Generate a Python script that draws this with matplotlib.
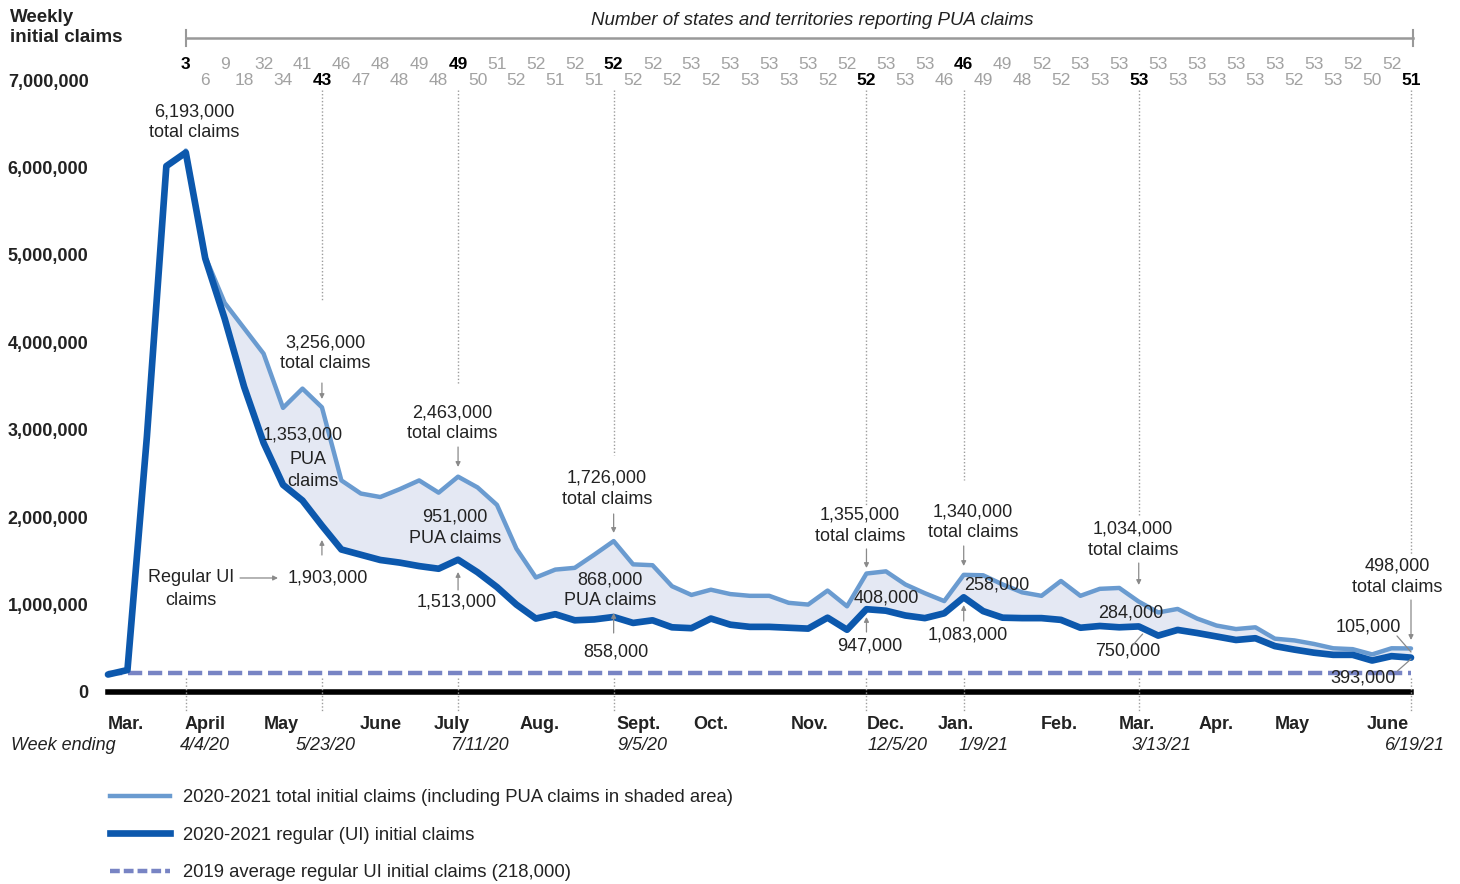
import matplotlib
matplotlib.use("Agg")
import matplotlib.pyplot as plt
from matplotlib.lines import Line2D
import numpy as np

plt.rcParams['font.family'] = ['Liberation Sans', 'DejaVu Sans']

# ---------------- data (weeks ending 3/7/20 ... 6/19/21, index 0..67) ----------------
regular_k = [200, 251, 2920, 6015, 6170, 4960, 4270, 3490, 2850, 2370, 2190, 1903,
             1630, 1570, 1510, 1480, 1440, 1410, 1513, 1370, 1200, 1000, 840, 890,
             820, 830, 858, 790, 820, 740, 730, 840, 770, 745, 745, 735, 725, 850,
             712, 947, 930, 875, 845, 900, 1083, 925, 850, 845, 845, 825, 735, 755,
             740, 750, 645, 710, 675, 635, 595, 615, 525, 485, 450, 425, 425, 360,
             410, 393]
total_k = [6193, 4980, 4450, 4160, 3870, 3250, 3470, 3256, 2420, 2270, 2230, 2320,
           2420, 2280, 2463, 2340, 2140, 1640, 1310, 1400, 1420, 1570, 1726, 1460,
           1450, 1210, 1110, 1170, 1120, 1100, 1100, 1020, 1000, 1160, 980, 1355,
           1380, 1230, 1130, 1040, 1340, 1335, 1230, 1140, 1100, 1270, 1100, 1180,
           1190, 1034, 910, 950, 840, 760, 720, 740, 610, 590, 550, 500, 490, 430,
           500, 498]
total_start = 4  # week ending 4/4/20
avg_2019 = 218000
pua_states = [3, 6, 9, 18, 32, 34, 41, 43, 46, 47, 48, 48, 49, 48, 49, 50, 51, 52,
              52, 51, 52, 51, 52, 52, 52, 52, 53, 52, 53, 53, 53, 53, 53, 52, 52, 52,
              53, 53, 53, 46, 46, 49, 49, 48, 52, 52, 53, 53, 53, 53, 53, 53, 53, 53,
              53, 53, 53, 52, 53, 53, 52, 50, 52, 51]
key_weeks = [4, 11, 18, 26, 39, 44, 53, 67]
key_dates = ["4/4/20", "5/23/20", "7/11/20", "9/5/20", "12/5/20", "1/9/21", "3/13/21", "6/19/21"]
months = ["Mar.", "April", "May", "June", "July", "Aug.", "Sept.", "Oct.", "Nov.",
          "Dec.", "Jan.", "Feb.", "Mar.", "Apr.", "May", "June"]
month_pos = [0.9, 5.0, 8.9, 14.0, 17.7, 22.2, 27.3, 31.0, 36.1, 40.0, 43.6, 48.9,
             52.9, 57.0, 60.9, 65.8]

regular = np.array(regular_k, float) * 1000
weeks = np.arange(len(regular))
total = np.full(len(regular), np.nan)
total[total_start:] = np.array(total_k, float) * 1000

LIGHT = "#6a9bd0"
DARK = "#0c58ad"
DASH = "#7884c4"
FILL = "#e4e8f3"
GREY = "#9c9c9c"
TXT = "#222222"
FS = 13

fig = plt.figure(figsize=(14.6, 8.84), dpi=100)
ax = fig.add_axes([108 / 1460, 192 / 884, 1303 / 1460, 612 / 884])
ax.set_xlim(0, 67)
ax.set_ylim(0, 7e6)
for s in ax.spines.values():
    s.set_visible(False)

# shaded PUA area
m = ~np.isnan(total)
ax.fill_between(weeks[m], regular[m], total[m], color=FILL, lw=0, zorder=1)
# 2019 avg
l_dash = ax.axhline(avg_2019, color=DASH, lw=3.2, dashes=(3.2, 1.3), zorder=2, clip_on=False)
# lines
l_tot, = ax.plot(weeks, total, color=LIGHT, lw=3.2, zorder=3, clip_on=False,
                 solid_joinstyle='round', solid_capstyle='round')
l_reg, = ax.plot(weeks, regular, color=DARK, lw=4.8, zorder=4, clip_on=False,
                 solid_joinstyle='round', solid_capstyle='round')
ax.axhline(0, color='black', lw=4, zorder=5, clip_on=False)

# y axis
ax.set_yticks(np.arange(0, 7e6 + 1, 1e6))
ax.set_yticklabels([f"{int(v):,}" for v in np.arange(0, 7e6 + 1, 1e6)],
                   fontsize=FS, fontweight='bold', color=TXT)
ax.tick_params(axis='y', length=0, pad=14)
# x axis months
ax.set_xticks(month_pos)
ax.set_xticklabels(months, fontsize=FS, fontweight='bold', color=TXT)
ax.tick_params(axis='x', length=0, pad=17)

# week ending labels
tr = ax.get_xaxis_transform()
ax.text(-5.0, -0.0875, "Week ending", transform=tr, ha='left', va='center',
        fontsize=FS, style='italic', color=TXT, clip_on=False)
date_x = [5.0, 11.2, 19.1, 27.5, 40.6, 45.0, 54.2, 67.2]
for dx, d in zip(date_x, key_dates):
    ax.text(dx, -0.0875, d, transform=tr, ha='center', va='center', fontsize=FS,
            style='italic', color=TXT, clip_on=False)

# dotted guide lines
upper_bottom = {11: 4.48e6, 18: 3.51e6, 26: 2.71e6, 39: 2.14e6, 44: 2.42e6,
                53: 2.02e6, 67: 1.57e6}
for w in key_weeks:
    ax.plot([w, w], [0.16e6, -0.23e6], color=GREY, lw=1, ls=(0, (1, 1.5)),
            clip_on=False, zorder=6)
    if w in upper_bottom:
        ax.plot([w, w], [6.88e6, upper_bottom[w]], color=GREY, lw=1,
                ls=(0, (1, 1.5)), clip_on=False, zorder=0)

# PUA state counts row
for k, n in enumerate(pua_states):
    w = total_start + k
    yv = 7.18e6 if k % 2 == 0 else 7.0e6
    bold = w in key_weeks
    ax.text(w, yv, str(n), ha='center', va='center', fontsize=12.5,
            fontweight='bold' if bold else 'normal',
            color='black' if bold else '#a2a2a2', clip_on=False)

# bracket + title
ax.plot([4, 67.1], [7.48e6, 7.48e6], color='#999999', lw=1.8, clip_on=False)
for xb in (4, 67.1):
    ax.plot([xb, xb], [7.57e6, 7.39e6], color='#999999', lw=1.5, clip_on=False)
ax.text(36.2, 7.686e6, "Number of states and territories reporting PUA claims",
        ha='center', va='center', fontsize=13.5, style='italic', color=TXT, clip_on=False)

fig.text(10 / 1460, 1 - 17 / 884, "Weekly", ha='left', va='center', fontsize=13.5,
         fontweight='bold', color=TXT)
fig.text(10 / 1460, 1 - 37 / 884, "initial claims", ha='left', va='center', fontsize=13.5,
         fontweight='bold', color=TXT)

# annotations
def label(x, ys, lines):
    for yv, s in zip(ys, lines):
        ax.text(x, yv, s, ha='center', va='center', fontsize=FS, color=TXT,
                clip_on=False, zorder=7)

label(4.42, [6.634e6, 6.405e6], ["6,193,000", "total claims"])
label(11.16, [3.992e6, 3.752e6], ["3,256,000", "total claims"])
label(10.03, [2.940e6], ["1,353,000"])
label(10.28, [2.665e6], ["PUA"])
label(10.54, [2.413e6], ["claims"])
label(11.31, [1.304e6], ["1,903,000"])
label(4.27, [1.304e6, 1.052e6], ["Regular UI", "claims"])
label(17.69, [3.191e6, 2.951e6], ["2,463,000", "total claims"])
label(17.84, [2.002e6, 1.761e6], ["951,000", "PUA claims"])
label(17.95, [1.029e6], ["1,513,000"])
label(25.66, [2.448e6, 2.207e6], ["1,726,000", "total claims"])
label(25.81, [1.281e6, 1.041e6], ["868,000", "PUA claims"])
label(26.12, [0.458e6], ["858,000"])
label(38.67, [2.024e6, 1.784e6], ["1,355,000", "total claims"])
label(40.0, [1.075e6], ["408,000"])
label(39.18, [0.526e6], ["947,000"])
label(44.48, [2.059e6, 1.819e6], ["1,340,000", "total claims"])
label(45.71, [1.224e6], ["258,000"])
label(44.22, [0.652e6], ["1,083,000"])
label(52.7, [1.864e6, 1.624e6], ["1,034,000", "total claims"])
label(52.6, [0.904e6], ["284,000"])
label(52.45, [0.469e6], ["750,000"])
label(66.28, [1.441e6, 1.190e6], ["498,000", "total claims"])
label(64.79, [0.743e6], ["105,000"])
label(64.53, [0.160e6], ["393,000"])

def arrow(x0, y0, x1, y1, head=True):
    ax.annotate('', xy=(x1, y1), xytext=(x0, y0), annotation_clip=False,
                arrowprops=dict(arrowstyle='-|>' if head else '-', color='#8a8a8a',
                                lw=0.9, shrinkA=0, shrinkB=0, mutation_scale=7), zorder=7)

arrows = [(11, 3.534e6, 3.351e6), (11, 1.567e6, 1.739e6),
          (18, 2.802e6, 2.574e6), (18, 1.167e6, 1.373e6),
          (26, 2.036e6, 1.819e6), (26, 0.675e6, 0.904e6),
          (39, 1.636e6, 1.418e6), (39, 0.686e6, 0.858e6),
          (44, 1.670e6, 1.441e6), (44, 0.812e6, 0.995e6),
          (53, 1.475e6, 1.224e6), (67, 1.052e6, 0.595e6)]
for w, a, b in arrows:
    arrow(w, a, w, b)
arrow(6.79, 1.304e6, 8.74, 1.304e6)
arrow(52.7, 0.538e6, 53.2, 0.663e6, head=False)
arrow(66.28, 0.641e6, 67.0, 0.458e6, head=False)
arrow(66.3, 0.240e6, 67.0, 0.377e6, head=False)

# legend
h1 = Line2D([], [], color=LIGHT, lw=3.2)
h2 = Line2D([], [], color=DARK, lw=4.8)
h3 = Line2D([], [], color=DASH, lw=3.2, dashes=(2.2, 0.9))
fig.legend([h1, h2, h3],
           ["2020-2021 total initial claims (including PUA claims in shaded area)",
            "2020-2021 regular (UI) initial claims",
            "2019 average regular UI initial claims (218,000)"],
           loc='upper left', bbox_to_anchor=(110 / 1460, 1 - 789 / 884),
           frameon=False, fontsize=13.3, handlelength=3.25, handletextpad=0.7,
           labelspacing=1.12, borderpad=0, borderaxespad=0, labelcolor=TXT)

fig.savefig("out.png", dpi=100)
